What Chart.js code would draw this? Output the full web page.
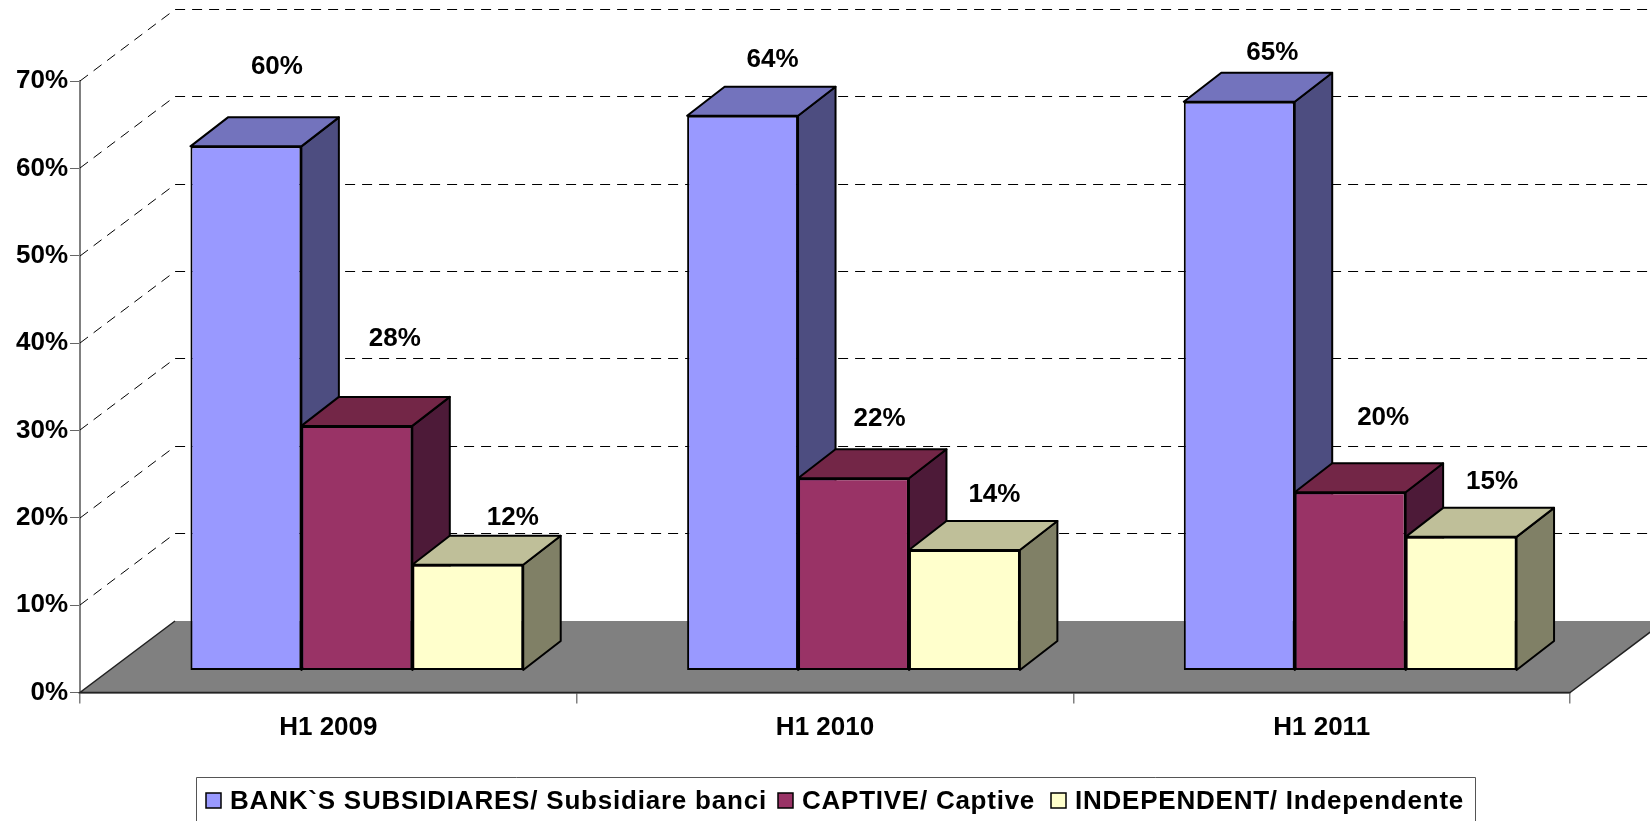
<!DOCTYPE html>
<html>
<head>
<meta charset="utf-8">
<title>Chart</title>
<script src="https://cdn.jsdelivr.net/npm/chart.js@4"></script>
<style>
  html, body { margin: 0; padding: 0; background: #fff; overflow: hidden; }
  canvas { display: block; }
</style>
</head>
<body>
<canvas id="chart" width="1650" height="821"></canvas>
<script>
// Data
const PERIODS = ["H1 2009", "H1 2010", "H1 2011"];
const BANK_SUBS = [60, 63.5, 65.1];
const CAPTIVE = [28, 22, 20.4];
const INDEPENDENT = [12.1, 13.8, 15.3];
const Y_MAX = 70;
const Y_STEP = 10;
const NAMES = ["BANK`S SUBSIDIARES/ Subsidiare banci", "CAPTIVE/ Captive", "INDEPENDENT/ Independente"];

// Look
const FONT = "bold 26px 'Liberation Sans', Arial, sans-serif";
const FRONT = ["#9999ff", "#993366", "#ffffcc"];
const TOP = ["#7373bd", "#732647", "#bfbf99"];
const SIDE = ["#4d4d80", "#4d1a38", "#808066"];
const WALL = { dx: 95, dy: 71.5 };   // front plane to back wall
const BAR_SHIFT = { x: 28.5, y: -22 }; // bars stand a bit inside the floor
const BAR_DEPTH = { x: 37.5, y: 29 };
// data labels were moved by hand in the original, offsets from the bar's top centre
const LABEL_NUDGE = [
  [[31, -80], [30, -56], [33, -49]],
  [[38, -87], [26, -59], [33, -74]],
  [[45, -47], [30, -55], [31, -55]]
];
const LEGEND = { left: 196, right: 1475, top: 777, midY: 802, swatchY: 793, swatch: 15, starts: [206, 778, 1051], textGap: 9, widths: [537, 233, 389] };

const poly = (ctx, pts, fill, stroke, lw) => {
  ctx.beginPath();
  pts.forEach(([x, y], i) => (i ? ctx.lineTo(x, y) : ctx.moveTo(x, y)));
  ctx.closePath();
  if (fill) { ctx.fillStyle = fill; ctx.fill(); }
  if (stroke) { ctx.strokeStyle = stroke; ctx.lineWidth = lw || 2; ctx.lineJoin = "round"; ctx.stroke(); }
};

const walls = {
  id: "walls",
  beforeDatasetsDraw(chart) {
    const { ctx, chartArea: a, scales: { y } } = chart;
    const { dx, dy } = WALL;
    ctx.save();
    // floor
    const y0 = y.getPixelForValue(0);
    poly(ctx, [[a.left, y0], [a.left + dx, y0 - dy], [a.right + dx, y0 - dy], [a.right, y0]], "#808080");
    ctx.strokeStyle = "#222";
    ctx.lineWidth = 1.5;
    ctx.beginPath();
    ctx.moveTo(a.left + dx, y0 - dy);
    ctx.lineTo(a.left, y0);
    ctx.lineTo(a.right, y0);
    ctx.lineTo(a.right + dx, y0 - dy);
    ctx.stroke();
    // dashed grid, side wall and back wall
    ctx.strokeStyle = "#000";
    ctx.lineWidth = 1;
    ctx.setLineDash([10, 7]);
    for (let v = Y_STEP; v <= Y_MAX; v += Y_STEP) {
      const py = Math.round(y.getPixelForValue(v));
      ctx.beginPath();
      ctx.moveTo(a.left, py);
      ctx.lineTo(a.left + dx, py - dy);
      ctx.lineTo(a.right + dx, py - dy);
      ctx.stroke();
    }
    ctx.restore();

    // bars left to right so each one sits in front of the previous side face
    ctx.save();
    ctx.translate(BAR_SHIFT.x, BAR_SHIFT.y);
    chart.data.datasets.forEach((ds, i) => {
      const meta = chart.getDatasetMeta(i);
      meta.data.forEach((bar) => {
        const l = bar.x - bar.width / 2;
        const r = bar.x + bar.width / 2;
        const { x: bx, y: by } = BAR_DEPTH;
        poly(ctx, [[r, bar.y], [r + bx, bar.y - by], [r + bx, bar.base - by], [r, bar.base]], SIDE[i], "#000", 2);
        poly(ctx, [[l, bar.y], [l + bx, bar.y - by], [r + bx, bar.y - by], [r, bar.y]], TOP[i], "#000", 2);
      });
      meta.controller.draw();
    });
    ctx.restore();

    // value labels
    ctx.save();
    ctx.font = FONT;
    ctx.fillStyle = "#000";
    ctx.textAlign = "center";
    ctx.textBaseline = "middle";
    chart.data.datasets.forEach((ds, i) => {
      chart.getDatasetMeta(i).data.forEach((bar, j) => {
        const [nx, ny] = LABEL_NUDGE[i][j];
        ctx.fillText(Math.round(ds.data[j]) + "%", bar.x + BAR_SHIFT.x + nx, bar.y + BAR_SHIFT.y + ny);
      });
    });
    ctx.restore();
    return false; // datasets are already drawn
  },
  afterDraw(chart) {
    const { ctx, height } = chart;
    ctx.save();
    // legend frame runs off the bottom of the picture
    ctx.strokeStyle = "#555";
    ctx.lineWidth = 1;
    ctx.beginPath();
    ctx.moveTo(LEGEND.left + 0.5, height);
    ctx.lineTo(LEGEND.left + 0.5, LEGEND.top + 0.5);
    ctx.lineTo(LEGEND.right + 0.5, LEGEND.top + 0.5);
    ctx.lineTo(LEGEND.right + 0.5, height);
    ctx.stroke();
    ctx.font = FONT;
    ctx.textBaseline = "middle";
    NAMES.forEach((name, i) => {
      const x = LEGEND.starts[i];
      ctx.fillStyle = FRONT[i];
      ctx.strokeStyle = "#000";
      ctx.lineWidth = 1.5;
      ctx.fillRect(x, LEGEND.swatchY, LEGEND.swatch, LEGEND.swatch);
      ctx.strokeRect(x, LEGEND.swatchY, LEGEND.swatch, LEGEND.swatch);
      ctx.fillStyle = "#000";
      // the original text is spaced out a little wider than the plain font
      ctx.letterSpacing = "0px";
      const extra = (LEGEND.widths[i] - ctx.measureText(name).width) / name.length;
      ctx.letterSpacing = extra.toFixed(2) + "px";
      ctx.fillText(name, x + LEGEND.swatch + LEGEND.textGap, LEGEND.midY);
    });
    ctx.restore();
  }
};

new Chart(document.getElementById("chart"), {
  type: "bar",
  data: {
    labels: PERIODS,
    datasets: [BANK_SUBS, CAPTIVE, INDEPENDENT].map((data, i) => ({
      label: NAMES[i],
      data,
      backgroundColor: FRONT[i],
      borderColor: "#000",
      borderWidth: 2,
      borderSkipped: false
    }))
  },
  options: {
    responsive: false,
    animation: false,
    layout: { padding: { top: 81, right: 80, bottom: 78.5, left: 0 } },
    datasets: { bar: { categoryPercentage: 0.67, barPercentage: 1 } },
    plugins: { legend: { display: false }, tooltip: { enabled: false } },
    scales: {
      x: {
        afterFit: (s) => { s.height = 50; },
        grid: { offset: true, drawOnChartArea: false, tickLength: 11, tickColor: "#808080", lineWidth: 1.5 },
        border: { color: "#222", width: 1.5 },
        ticks: { color: "#000", font: { family: "'Liberation Sans'", size: 26, weight: "bold" }, padding: 9, maxRotation: 0, autoSkip: false }
      },
      y: {
        min: 0,
        max: Y_MAX,
        afterFit: (s) => { s.width = 80; },
        grid: { drawOnChartArea: false, tickLength: 10, tickColor: "#666", lineWidth: 1 },
        border: { color: "#808080", width: 2 },
        ticks: { stepSize: Y_STEP, color: "#000", font: { family: "'Liberation Sans'", size: 26, weight: "bold" }, padding: 2, callback: (v) => v + "%" }
      }
    }
  },
  plugins: [walls]
});
</script>
</body>
</html>
